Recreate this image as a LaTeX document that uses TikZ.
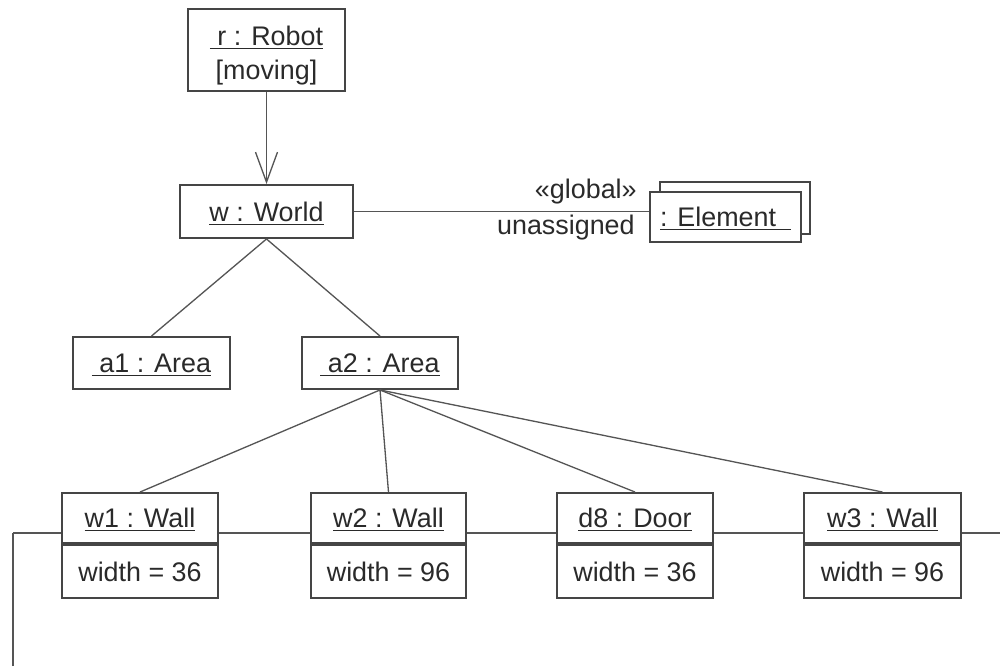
\documentclass[tikz,border=0pt]{standalone}
\usepackage{fontspec}
\setmainfont{Liberation Sans}
\usepackage{tikz}
\usetikzlibrary{arrows.meta,positioning,calc}
\definecolor{ink}{HTML}{2A2A2A}
\definecolor{edge}{HTML}{454545}
\definecolor{wire}{HTML}{555555}
\newcommand{\objname}[1]{\underline{#1}}

\begin{document}
\begin{tikzpicture}[x=0.2mm, y=-0.2mm,
		every node/.style={text=ink, font=\fontsize{15.3}{20}\selectfont},
		obj/.style={rectangle, draw=edge, line width=1.1pt, fill=white, inner sep=0pt, text depth=0pt, minimum height=10mm},
		attr/.style={obj, minimum height=10.6mm},
		lbl/.style={inner sep=0pt},
		link/.style={draw=wire, line width=0.75pt}]
			\useasboundingbox (0,0) rectangle (1000,666);
			
			\node[obj, minimum width=31.4mm, minimum height=16.4mm] (r) at (266.5,50) {};
			\node[lbl] (rname) at (266.5,38) {\objname{\ r : Robot}};
			\node[lbl] (rstate) at (266.5,73) {[moving]};
			\node[obj, minimum width=34.6mm, minimum height=10.6mm] (w) at (266.5,211.5) {\objname{w : World}};
			\node[obj, minimum width=30mm, minimum height=10.4mm] (elb) at (735,208) {};
			\node[obj, minimum width=30.2mm] (el) at (725.5,217) {\objname{: Element\ \ }};
			\node[lbl, anchor=east] (glob) at (637,192) {«global»};
			\node[lbl, anchor=east] (unas) at (635,228) {unassigned};
			
			\node[obj, minimum width=31.4mm, minimum height=10.4mm] (a1) at (151.5,363) {\objname{\ a1 : Area}};
			\node[obj, minimum width=31.2mm, minimum height=10.4mm] (a2) at (380,363) {\objname{\ a2 : Area}};
			
			\node[obj, minimum width=31.2mm] (w1) at (140,518) {\objname{w1 : Wall}};
			\node[attr, minimum width=31.2mm, below=0pt of w1] (w1a) {width = 36};
			\node[obj, minimum width=31mm] (w2) at (388.5,518) {\objname{w2 : Wall}};
			\node[attr, minimum width=31mm, below=0pt of w2] (w2a) {width = 96};
			\node[obj, minimum width=31.2mm] (d8) at (635,518) {\objname{d8 : Door}};
			\node[attr, minimum width=31.2mm, below=0pt of d8] (d8a) {width = 36};
			\node[obj, minimum width=31.4mm] (w3) at (882.5,518) {\objname{w3 : Wall}};
			\node[attr, minimum width=31.4mm, below=0pt of w3] (w3a) {width = 96};
			
			\coordinate (lft) at (13,533);
			\coordinate (rgt) at (1000,533);
			\coordinate (bot) at (13,666);
			
			\draw[link, -{Straight Barb[length=6mm, width=4.4mm]}] (r) -- (w);
			\draw[link] (w.east) -- (w.east -| el.west);
			\draw[link] (w.south) -- (a1.north);
			\draw[link] (w.south) -- (a2.north);
			\foreach \n in {w1,w2,d8,w3}
				\draw[link] (a2.south) -- (\n.north);
			
			\draw[link, line width=1.2pt] (bot) -- (lft);
			\draw[link] (lft) -- (lft -| w1.west);
			\foreach \a/\b in {w1/w2,w2/d8,d8/w3}
				\draw[link] (\a.east |- lft) -- (\b.west |- lft);
			\draw[link] (w3.east |- rgt) -- (rgt);
		\end{tikzpicture}
\end{document}
